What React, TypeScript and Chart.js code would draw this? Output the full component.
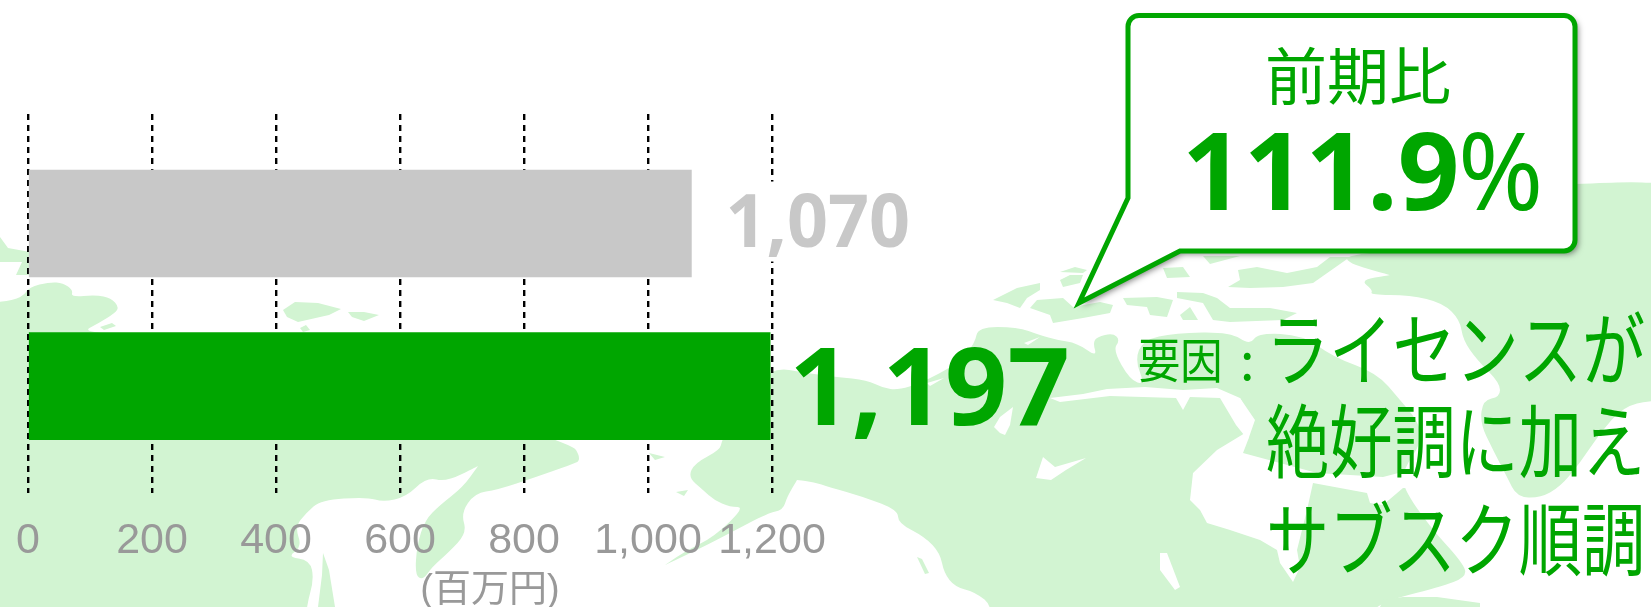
import React, { useEffect, useRef } from "react";
import { Chart, registerables } from "chart.js";

Chart.register(...registerables);

const categories = ["前期", "当期"];
const sales = [1070, 1197];
const barColors = ["#C8C8C8", "#00A600"];
const tickValues = [0, 200, 400, 600, 800, 1000, 1200];
const unitLabel = "(百万円)";
const ratioTitle = "前期比";
const ratioValue = "111.9";
const reasonLabel = "要因";
const reasonLines = ["ライセンスが", "絶好調に加え", "サブスク順調"];

const GREEN = "#00A600";
const LAND = "#D2F4D2";
const CJK = "'Noto Sans CJK JP'";

type Poly = number[][];

const coastShapes: Poly[] = [
  // Russia
  [[-60,303],[0,303],[23,297],[29,287],[50,282],[63,283],[73,290],[71,297],[96,295],[111,298],[119,307],[115,313],[99,323],[80,333],[190,336],[570,440],[582,460],[570,465],[536,477],[497,490],[475,493],[461,513],[467,533],[448,553],[432,567],[423,580],[415,575],[417,545],[425,520],[440,505],[463,487],[478,466],[478,466],[446,482],[427,477],[406,497],[383,502],[367,497],[321,500],[306,513],[295,527],[302,547],[287,557],[310,560],[314,580],[306,607],[300,680],[-60,680]],
  // North America
  [[772,367],[806,373],[837,377],[867,380],[883,388],[898,390],[921,383],[959,363],[975,343],[978,327],[1017,327],[1040,335],[1057,340],[1077,343],[1097,357],[1093,343],[1097,337],[1113,333],[1120,340],[1113,350],[1130,380],[1145,385],[1135,360],[1143,340],[1175,333],[1230,332],[1250,345],[1258,333],[1303,335],[1333,357],[1377,373],[1400,400],[1417,420],[1423,440],[1403,470],[1403,488],[1430,527],[1463,563],[1467,577],[1440,587],[1377,603],[1370,620],[1370,680],[994,680],[994,607],[975,592],[955,587],[944,573],[940,553],[925,537],[898,523],[898,510],[864,497],[829,487],[814,482],[797,480],[797,480],[787,497],[783,510],[768,513],[730,533],[703,547],[665,565],[665,565],[687,550],[714,537],[745,507],[730,507],[714,500],[703,490],[688,477],[695,463],[720,450],[722,440],[740,400]],
  // Greenland
  [[1500,187],[1600,183],[1633,182],[1651,183],[1720,183],[1720,400],[1651,400],[1623,407],[1600,433],[1580,463],[1560,487],[1540,498],[1517,497],[1507,477],[1493,450],[1480,423],[1483,400],[1500,397],[1500,383],[1477,360],[1463,340],[1460,320],[1443,303],[1410,295],[1370,295],[1373,290],[1360,280],[1390,275],[1390,275],[1347,263],[1347,254],[1500,240]],
];

const islandShapes: Poly[] = [
  // Sakhalin
  [[323,553],[329,570],[335,607],[318,607],[322,575]],
  // New Siberian islands
  [[283,310],[295,302],[318,303],[341,309],[329,315],[298,322],[287,317]],
  [[348,312],[364,312],[379,315],[364,321],[352,317]],
  [[300,328],[306,325],[310,330],[303,332]],
  [[100,327],[112,323],[116,326],[104,330]],
  // Fragment left of the grey bar
  [[0,237],[8,248],[30,252],[30,275],[16,275],[22,262],[0,262]],
  [[1383,600],[1403,597],[1437,597],[1480,603],[1480,607],[1380,607]],
  // Arctic islands
  [[993,300],[1017,288],[1040,283],[1040,290],[1027,298],[1020,308],[1007,303]],
  [[1030,308],[1037,300],[1063,298],[1073,307],[1100,302],[1113,305],[1110,313],[1083,318],[1053,323],[1050,315]],
  [[1060,280],[1070,275],[1083,275],[1080,283],[1063,287]],
  [[1060,272],[1075,267],[1087,270],[1083,273]],
  [[1163,268],[1183,267],[1190,277],[1167,278]],
  [[1123,298],[1157,297],[1173,300],[1167,317],[1150,315],[1147,307],[1127,305]],
  [[1177,292],[1203,293],[1217,298],[1230,308],[1270,308],[1297,313],[1283,320],[1230,322],[1213,320],[1203,303],[1177,298]],
  [[1180,315],[1190,307],[1198,320],[1183,320]],
  [[1228,287],[1240,280],[1238,270],[1257,267],[1287,273],[1317,267],[1330,257],[1350,257],[1313,283],[1283,287],[1250,288]],
  [[1203,256],[1240,256],[1210,264]],
  // Small islands off Alaska
  [[676,492],[688,490],[684,496]],
  [[649,453],[665,457],[655,460]],
  [[917,557],[922,559],[929,573],[925,574]],
];

const waterShapes: Poly[] = [
  // Hudson Bay and strait
  [[1240,398],[1255,420],[1248,440],[1243,453],[1317,473],[1383,477],[1410,470],[1410,488],[1403,488],[1383,505],[1370,503],[1367,493],[1313,483],[1307,510],[1297,550],[1300,567],[1293,582],[1280,563],[1277,550],[1260,540],[1230,530],[1207,523],[1200,510],[1190,500],[1193,473],[1217,450],[1250,430],[1235,405]],
  // Arctic channel
  [[1050,398],[1083,394],[1107,389],[1145,387],[1183,390],[1217,388],[1240,398],[1252,420],[1248,440],[1236,425],[1220,398],[1190,397],[1183,410],[1176,398],[1110,396],[1060,402]],
  // Lakes and inlets
  [[1036,478],[1043,457],[1055,467],[1086,458],[1066,470],[1051,480]],
  [[994,427],[1000,417],[1013,407],[1010,425],[1005,435],[1000,433]],
  [[1160,553],[1167,553],[1180,587],[1175,590],[1160,570]],
  [[1024,343],[1040,337],[1028,345]],
  [[927,383],[944,378],[930,386]],
];

function traceSmooth(ctx: CanvasRenderingContext2D, poly: Poly) {
  ctx.beginPath();
  const n = poly.length;
  const mid = (a: number[], b: number[]) => [(a[0] + b[0]) / 2, (a[1] + b[1]) / 2];
  const start = mid(poly[n - 1], poly[0]);
  ctx.moveTo(start[0], start[1]);
  for (let i = 0; i < n; i++) {
    const m = mid(poly[i], poly[(i + 1) % n]);
    ctx.quadraticCurveTo(poly[i][0], poly[i][1], m[0], m[1]);
  }
  ctx.closePath();
}

function traceStraight(ctx: CanvasRenderingContext2D, poly: Poly) {
  ctx.beginPath();
  poly.forEach(([x, y], i) => (i ? ctx.lineTo(x, y) : ctx.moveTo(x, y)));
  ctx.closePath();
}

function traceCallout(ctx: CanvasRenderingContext2D) {
  const l = 1128, t = 15.5, r = 1575, b = 251, rad = 11;
  ctx.beginPath();
  ctx.moveTo(l, 198);
  ctx.lineTo(l, t + rad);
  ctx.arcTo(l, t, l + rad, t, rad);
  ctx.lineTo(r - rad, t);
  ctx.arcTo(r, t, r, t + rad, rad);
  ctx.lineTo(r, b - rad);
  ctx.arcTo(r, b, r - rad, b, rad);
  ctx.lineTo(1180, b);
  ctx.lineTo(1079, 303);
  ctx.closePath();
}

function squeezedText(ctx: CanvasRenderingContext2D, text: string, x: number, y: number, font: string, color: string, sx = 1) {
  ctx.save();
  ctx.font = font;
  ctx.fillStyle = color;
  ctx.textBaseline = "middle";
  ctx.textAlign = "left";
  ctx.translate(x, y);
  ctx.scale(sx, 1);
  ctx.fillText(text, 0, 0);
  ctx.restore();
}

const decorations = {
  id: "decorations",
  beforeDraw(chart: any) {
    const ctx: CanvasRenderingContext2D = chart.ctx;
    ctx.save();
    ctx.fillStyle = "#FFFFFF";
    ctx.fillRect(0, 0, chart.width, chart.height);
    ctx.fillStyle = LAND;
    coastShapes.forEach((p) => { traceSmooth(ctx, p); ctx.fill(); });
    islandShapes.forEach((p) => { traceStraight(ctx, p); ctx.fill(); });
    ctx.fillStyle = "#FFFFFF";
    waterShapes.forEach((p) => { traceStraight(ctx, p); ctx.fill(); });
    ctx.restore();
  },
  afterDatasetsDraw(chart: any) {
    const ctx: CanvasRenderingContext2D = chart.ctx;
    const meta = chart.getDatasetMeta(0);
    const x = chart.scales.x;

    // value labels
    ctx.save();
    ctx.fillStyle = "#FFFFFF";
    ctx.fillRect(meta.data[0].x + 20, meta.data[0].y - 42, 200, 80);
    ctx.restore();
    squeezedText(ctx, sales[0].toLocaleString("en-US"), meta.data[0].x + 34, meta.data[0].y + 2, `bold 74px 'Noto Sans'`, "#C8C8C8", 0.97);
    squeezedText(ctx, sales[1].toLocaleString("en-US"), meta.data[1].x + 19, meta.data[1].y + 8, `bold 108px 'Noto Sans'`, GREEN, 1.01);

    // unit
    ctx.save();
    ctx.font = `38px 'Liberation Sans', ${CJK}`;
    ctx.fillStyle = "#999999";
    ctx.textAlign = "center";
    ctx.textBaseline = "middle";
    ctx.fillText(unitLabel, x.getPixelForValue(745), 591);
    ctx.restore();

    // callout
    ctx.save();
    traceCallout(ctx);
    ctx.shadowColor = "rgba(0,0,0,0.5)";
    ctx.shadowBlur = 6;
    ctx.shadowOffsetX = 3;
    ctx.shadowOffsetY = 3;
    ctx.fillStyle = "#FFFFFF";
    ctx.fill();
    ctx.shadowColor = "rgba(0,0,0,0)";
    ctx.strokeStyle = GREEN;
    ctx.lineWidth = 5;
    ctx.lineJoin = "miter";
    ctx.stroke();
    ctx.restore();

    squeezedText(ctx, ratioTitle, 1265, 76, `62px ${CJK}`, GREEN);
    squeezedText(ctx, ratioValue, 1182, 179, `bold 108px 'Noto Sans'`, GREEN, 1);
    squeezedText(ctx, "%", 1458, 179, `108px 'Noto Sans'`, GREEN, 0.95);

    // reason text
    squeezedText(ctx, reasonLabel, 1138, 360, `48px ${CJK}`, GREEN, 0.88);
    squeezedText(ctx, ":", 1240, 360, `52px ${CJK}`, GREEN);
    const lineY = [349, 441, 539];
    reasonLines.forEach((line, i) => {
      squeezedText(ctx, line, 1266, lineY[i], `80px ${CJK}`, GREEN, 0.79);
    });
  },
};

export default function App() {
  const ref = useRef<HTMLCanvasElement>(null);
  useEffect(() => {
    const chart = new Chart(ref.current!, {
      type: "bar",
      data: {
        datasets: [
          {
            data: categories.map((_, i) => ({ x: sales[i], y: i })),
            backgroundColor: barColors,
            barThickness: 107,
          },
        ],
      },
      options: {
        indexAxis: "y",
        animation: false,
        responsive: false,
        devicePixelRatio: 1,
        layout: { padding: { left: 28, right: 879, top: 114, bottom: 0 } },
        plugins: { legend: { display: false }, tooltip: { enabled: false } },
        scales: {
          x: {
            type: "linear",
            position: "bottom",
            min: 0,
            max: 1200,
            afterFit: (s: any) => { s.height = 114; s.paddingLeft = 0; s.paddingRight = 0; },
            afterBuildTicks: (s: any) => { s.ticks = tickValues.map((value) => ({ value })); },
            grid: { color: "#000000", lineWidth: 2.4, drawTicks: false, drawOnChartArea: true },
            border: { display: false, dash: [6, 5] },
            ticks: {
              autoSkip: false,
              maxRotation: 0,
              padding: 22,
              color: "#999999",
              font: { family: "'Liberation Sans'", size: 43 },
              callback: (v: any) => Number(v).toLocaleString("en-US"),
            },
          },
          y: {
            type: "linear",
            reverse: true,
            offset: false,
            min: -0.674,
            max: 1.658,
            display: false,
          },
        },
      },
      plugins: [decorations],
    } as any);
    return () => chart.destroy();
  }, []);
  return (
    <div style={{ position: "absolute", left: 0, top: 0, width: 1651, height: 607 }}>
      <canvas ref={ref} width={1651} height={607} style={{ display: "block", width: 1651, height: 607 }} />
    </div>
  );
}
